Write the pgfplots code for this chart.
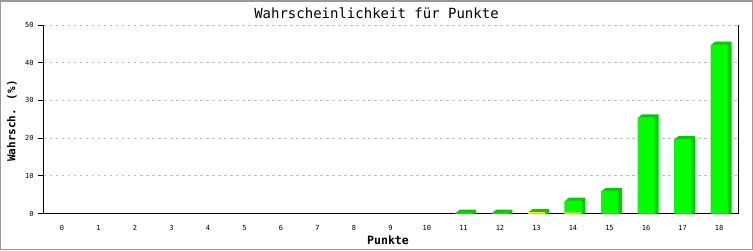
\documentclass[border=0pt]{standalone}
\usepackage{pgfplots}
\pgfplotsset{compat=1.18}
\usepackage{fontspec}
\setmainfont{DejaVu Sans Mono}
\setmonofont{DejaVu Sans Mono}
\definecolor{barfront}{RGB}{0,255,0}
\definecolor{barside}{RGB}{0,204,0}
\definecolor{baryel}{RGB}{255,255,0}
\definecolor{gridgray}{RGB}{192,192,192}
\definecolor{framegray}{RGB}{153,153,153}
\begin{document}
\begin{tikzpicture}
\useasboundingbox (-44pt,-36.5pt) rectangle (709pt,213.5pt);
\begin{axis}[
  at={(0pt,0pt)}, anchor=south west,
  scale only axis, width=694pt, height=188.5pt,
  xmin=-0.49, xmax=18.52, ymin=0, ymax=50,
  axis x line=bottom, axis y line=left,
  axis line style={-, black, line width=1pt},
  ybar, bar width=17pt,
  xtick={0,...,18}, ytick={0,10,...,50},
  x tick style={draw=none},
  y tick style={black, line width=1pt},
  major tick length=6pt, tick align=outside,
  ymajorgrids, grid style={gridgray, dash pattern=on 2.5pt off 3.5pt, line width=0.8pt},
  /pgf/number format/assume math mode=true,
  xticklabel style={font=\fontsize{7}{8}\selectfont, yshift=-2pt},
  yticklabel style={font=\fontsize{7}{8}\selectfont, xshift=-1pt},
  xlabel={\textbf{Punkte}},
  xlabel style={font=\fontsize{11.5}{13}\selectfont, at={(344pt,-26.5pt)}, anchor=center},
  ylabel={\textbf{Wahrsch. (\%)}},
  ylabel style={font=\fontsize{11}{13}\selectfont, at={(-32pt,92.5pt)}, anchor=center, rotate=0},
  clip=false,
]
\addplot[draw=none, fill=barside, bar shift=4pt] coordinates {(11,1.0) (12,1.0) (13,1.2) (14,4.2) (15,6.8) (16,26.3) (17,20.6) (18,45.6)};
\addplot[draw=none, fill=barside, bar shift=2.7pt] coordinates {(11,0.73) (12,0.73) (13,0.93) (14,3.93) (15,6.53) (16,26.03) (17,20.33) (18,45.33)};
\addplot[draw=none, fill=barside, bar shift=1.3pt] coordinates {(11,0.47) (12,0.47) (13,0.67) (14,3.67) (15,6.27) (16,25.77) (17,20.07) (18,45.07)};
\addplot[draw=none, fill=barfront, bar shift=0pt] coordinates {(11,0.2) (12,0.2) (13,0.4) (14,3.4) (15,6.0) (16,25.5) (17,19.8) (18,44.8)};
\addplot[draw=none, fill=baryel, bar shift=0pt] coordinates {(13,0.35) (14,0.3)};
\draw[black, line width=1pt] (rel axis cs:1,0) -- (rel axis cs:1,1);
\end{axis}
\node[font=\fontsize{14}{16}\selectfont, anchor=center] at (332.5pt,200.5pt) {Wahrscheinlichkeit für Punkte};
\draw[framegray, line width=1.5pt] (-43.25pt,-35.75pt) rectangle (708.25pt,212.75pt);
\end{tikzpicture}
\end{document}
